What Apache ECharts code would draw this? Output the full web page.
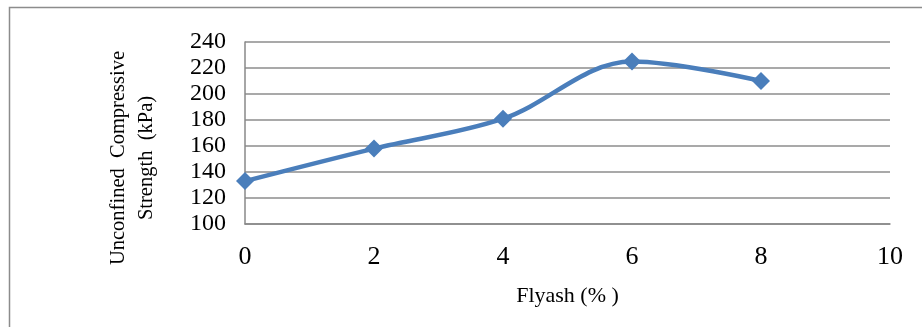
<!DOCTYPE html>
<html>
<head>
<meta charset="utf-8">
<script src="https://cdn.jsdelivr.net/npm/echarts@6/dist/echarts.min.js"></script>
<style>
  html, body { margin: 0; padding: 0; background: #fff; }
  #chart { width: 922px; height: 327px; }
</style>
</head>
<body>
<div id="chart"></div>
<script>
// Unconfined compressive strength against flyash content
const flyash = [0, 2, 4, 6, 8];
const strength = [133, 158, 181, 225, 210];
const xTicks = [0, 2, 4, 6, 8, 10];
const yTicks = [100, 120, 140, 160, 180, 200, 220, 240];
const xTitle = 'Flyash (% )';
const yTitle = 'Unconfined  Compressive\nStrength  (kPa)';

const chart = echarts.init(document.getElementById('chart'));
const serif = '"Liberation Serif", "Times New Roman", serif';

chart.setOption({
  animation: false,
  backgroundColor: '#fff',
  graphic: [{
    type: 'rect',
    shape: { x: 9.5, y: 7.5, width: 930, height: 340 },
    style: { fill: 'none', stroke: '#8c8c8c', lineWidth: 1.5 },
    silent: true
  }, {
    type: 'text',
    x: 133,
    y: 158,
    rotation: Math.PI / 2,
    style: {
      text: yTitle,
      font: '20.5px ' + serif,
      fill: '#000',
      align: 'center',
      verticalAlign: 'middle',
      lineHeight: 28
    },
    silent: true
  }],
  grid: { left: 245, right: 32, top: 42, bottom: 103 },
  xAxis: {
    type: 'value',
    min: xTicks[0],
    max: xTicks[xTicks.length - 1],
    interval: 2,
    name: xTitle,
    nameLocation: 'middle',
    nameGap: 61,
    nameTextStyle: { fontFamily: serif, fontSize: 22, color: '#000' },
    axisLine: { show: true, lineStyle: { color: '#888', width: 1.5 } },
    axisTick: { show: false },
    splitLine: { show: false },
    axisLabel: { fontFamily: serif, fontSize: 26, color: '#000', margin: 20 }
  },
  yAxis: {
    type: 'value',
    min: yTicks[0],
    max: yTicks[yTicks.length - 1],
    interval: 20,
    axisLine: { show: true, lineStyle: { color: '#888', width: 1.5 } },
    axisTick: { show: false },
    splitLine: { show: true, lineStyle: { color: '#8c8c8c', width: 1.5 } },
    axisLabel: { fontFamily: serif, fontSize: 24, color: '#000', margin: 19 }
  },
  series: [{
    type: 'line',
    data: flyash.map((x, i) => [x, strength[i]]),
    smooth: 0.35,
    symbol: 'diamond',
    symbolSize: 18,
    lineStyle: { color: '#4a7ebb', width: 4.5 },
    itemStyle: { color: '#4a7ebb' }
  }]
});
</script>
</body>
</html>
